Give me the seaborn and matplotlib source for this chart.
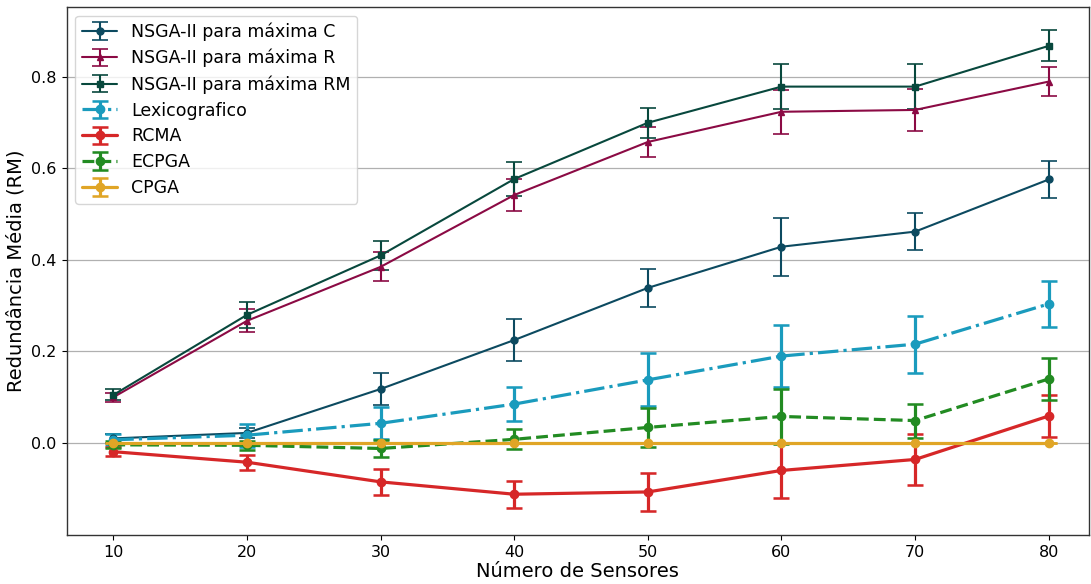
import matplotlib
matplotlib.use("Agg")
import matplotlib.pyplot as plt
import seaborn as sns

sensores = [10, 20, 30, 40, 50, 60, 70, 80]

nsga_c = [0.010, 0.022, 0.118, 0.225, 0.339, 0.429, 0.462, 0.576]
nsga_c_err = [0.010, 0.010, 0.035, 0.045, 0.042, 0.063, 0.040, 0.041]

nsga_r = [0.100, 0.267, 0.385, 0.542, 0.658, 0.724, 0.728, 0.790]
nsga_r_err = [0.010, 0.025, 0.032, 0.034, 0.032, 0.048, 0.045, 0.031]

nsga_rm = [0.105, 0.280, 0.410, 0.577, 0.700, 0.779, 0.779, 0.868]
nsga_rm_err = [0.012, 0.028, 0.032, 0.038, 0.033, 0.049, 0.050, 0.034]

lexico = [0.007, 0.017, 0.043, 0.085, 0.138, 0.190, 0.216, 0.304]
lexico_err = [0.012, 0.025, 0.035, 0.038, 0.058, 0.068, 0.062, 0.050]

rcma = [-0.019, -0.042, -0.085, -0.112, -0.107, -0.060, -0.036, 0.059]
rcma_err = [0.010, 0.016, 0.029, 0.030, 0.041, 0.061, 0.055, 0.045]

ecpga = [-0.004, -0.005, -0.012, 0.008, 0.034, 0.058, 0.049, 0.140]
ecpga_err = [0.008, 0.010, 0.019, 0.022, 0.043, 0.060, 0.037, 0.046]

cpga = [0.0, 0.0, 0.0, 0.0, 0.0, 0.0, 0.0, 0.0]
cpga_err = [0.0, 0.0, 0.0, 0.0, 0.0, 0.0, 0.0, 0.0]

sns.set_style("ticks", {"text.color": "black", "axes.labelcolor": "black",
                        "xtick.color": "black", "ytick.color": "black"})
plt.rcParams["font.family"] = ["DejaVu Sans"]

fig, ax = plt.subplots(figsize=(10.91, 5.84), dpi=100)

series = [
    ("NSGA-II para máxima C", nsga_c, nsga_c_err, "#0c4a60", "o", "-", 1.5, 5),
    ("NSGA-II para máxima R", nsga_r, nsga_r_err, "#8b0a44", "^", "-", 1.5, 5),
    ("NSGA-II para máxima RM", nsga_rm, nsga_rm_err, "#08483d", "s", "-", 1.5, 5),
    ("Lexicografico", lexico, lexico_err, "#1a9bbd", "o", "-.", 2.3, 6),
    ("RCMA", rcma, rcma_err, "#d62728", "o", "-", 2.3, 6),
    ("ECPGA", ecpga, ecpga_err, "#228b22", "o", "--", 2.3, 6),
    ("CPGA", cpga, cpga_err, "#e0a526", "o", "-", 2.3, 6),
]

for label, vals, errs, color, marker, ls, lw, ms in series:
    ax.errorbar(sensores, vals, yerr=errs, label=label, color=color,
                marker=marker, linestyle=ls, linewidth=lw, markersize=ms,
                capsize=6, elinewidth=lw, capthick=lw * 0.8)

ax.set_xlim(6.5, 83)
ax.set_ylim(-0.201, 0.953)
ax.set_xticks(sensores)
ax.set_yticks([0.0, 0.2, 0.4, 0.6, 0.8])
ax.yaxis.grid(True, color="#b0b0b0", linewidth=0.9)
ax.xaxis.grid(False)
ax.tick_params(labelsize=11.5, colors="black")
for s in ax.spines.values():
    s.set_color("#333333")
    s.set_linewidth(1.0)

ax.set_xlabel("Número de Sensores", fontsize=14, labelpad=2)
ax.set_ylabel("Redundância Média (RM)", fontsize=14)
ax.legend(loc="upper left", fontsize=12.5, frameon=True, borderaxespad=0.5,
          handletextpad=0.8, labelspacing=0.45)

fig.subplots_adjust(left=0.061, right=0.998, bottom=0.084, top=0.988)
fig.savefig("out.png", dpi=100)
